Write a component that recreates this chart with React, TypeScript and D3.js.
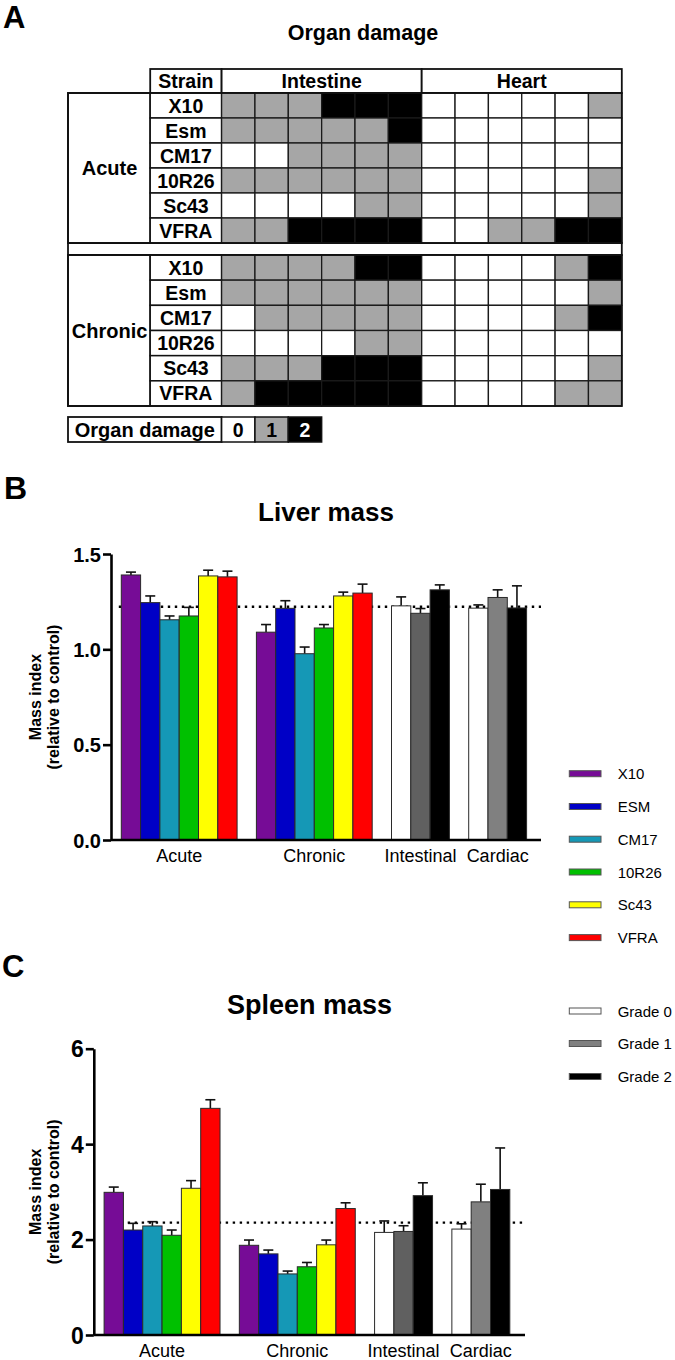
import React, { useEffect, useRef } from "react";
import * as d3 from "d3";

const FONT = "'Liberation Sans', Arial, Helvetica, sans-serif";

// ---------- Panel A data ----------
const tableStrains = ["X10", "Esm", "CM17", "10R26", "Sc43", "VFRA"];
const phases = ["Acute", "Chronic"];
const organs = ["Intestine", "Heart"];
const acuteIntestine = [
  [1, 1, 1, 2, 2, 2],
  [1, 1, 1, 1, 1, 2],
  [0, 0, 1, 1, 1, 1],
  [1, 1, 1, 1, 1, 1],
  [0, 0, 0, 0, 1, 1],
  [1, 1, 2, 2, 2, 2],
];
const acuteHeart = [
  [0, 0, 0, 0, 0, 1],
  [0, 0, 0, 0, 0, 0],
  [0, 0, 0, 0, 0, 0],
  [0, 0, 0, 0, 0, 1],
  [0, 0, 0, 0, 0, 1],
  [0, 0, 1, 1, 2, 2],
];
const chronicIntestine = [
  [1, 1, 1, 1, 2, 2],
  [1, 1, 1, 1, 1, 1],
  [0, 1, 1, 1, 1, 1],
  [0, 0, 0, 0, 1, 1],
  [1, 1, 1, 2, 2, 2],
  [1, 2, 2, 2, 2, 2],
];
const chronicHeart = [
  [0, 0, 0, 0, 1, 2],
  [0, 0, 0, 0, 0, 1],
  [0, 0, 0, 0, 1, 2],
  [0, 0, 0, 0, 0, 0],
  [0, 0, 0, 0, 0, 1],
  [0, 0, 0, 0, 1, 1],
];
const damageLevels = [0, 1, 2];
const damageColors = ["#ffffff", "#a6a6a6", "#000000"];

// ---------- Panels B/C data ----------
const strains = ["X10", "ESM", "CM17", "10R26", "Sc43", "VFRA"];
const strainColors = ["#760c96", "#0000c6", "#1598b6", "#00c000", "#ffff00", "#ff0000"];
const grades = ["Grade 0", "Grade 1", "Grade 2"];
const intestinalGradeColors = ["#ffffff", "#606060", "#000000"];
const cardiacGradeColors = ["#ffffff", "#808080", "#000000"];
const legendGradeColors = ["#ffffff", "#808080", "#000000"];
const groupLabels = ["Acute", "Chronic", "Intestinal", "Cardiac"];

const liverAcute = [1.39, 1.245, 1.155, 1.175, 1.385, 1.38];
const liverAcuteSem = [0.015, 0.035, 0.02, 0.045, 0.03, 0.03];
const liverChronic = [1.09, 1.215, 0.977, 1.112, 1.28, 1.295];
const liverChronicSem = [0.04, 0.04, 0.035, 0.018, 0.02, 0.047];
const liverIntestinal = [1.228, 1.189, 1.312];
const liverIntestinalSem = [0.047, 0.025, 0.026];
const liverCardiac = [1.216, 1.272, 1.217];
const liverCardiacSem = [0.017, 0.04, 0.116];
const liverControl = 1.223;
const liverTicks = [0, 0.5, 1.0, 1.5];

const spleenAcute = [2.99, 2.2, 2.285, 2.09, 3.075, 4.75];
const spleenAcuteSem = [0.11, 0.14, 0.09, 0.11, 0.16, 0.18];
const spleenChronic = [1.88, 1.7, 1.28, 1.43, 1.89, 2.65];
const spleenChronicSem = [0.11, 0.08, 0.06, 0.09, 0.1, 0.12];
const spleenIntestinal = [2.15, 2.17, 2.92];
const spleenIntestinalSem = [0.24, 0.12, 0.27];
const spleenCardiac = [2.22, 2.79, 3.05];
const spleenCardiacSem = [0.11, 0.37, 0.87];
const spleenControl = 2.355;
const spleenTicks = [0, 2, 4, 6];

type Group = { label: string; values: number[]; sems: number[]; colors: string[] };

const liverGroups: Group[] = [
  { label: groupLabels[0], values: liverAcute, sems: liverAcuteSem, colors: strainColors },
  { label: groupLabels[1], values: liverChronic, sems: liverChronicSem, colors: strainColors },
  { label: groupLabels[2], values: liverIntestinal, sems: liverIntestinalSem, colors: intestinalGradeColors },
  { label: groupLabels[3], values: liverCardiac, sems: liverCardiacSem, colors: cardiacGradeColors },
];
const spleenGroups: Group[] = [
  { label: groupLabels[0], values: spleenAcute, sems: spleenAcuteSem, colors: strainColors },
  { label: groupLabels[1], values: spleenChronic, sems: spleenChronicSem, colors: strainColors },
  { label: groupLabels[2], values: spleenIntestinal, sems: spleenIntestinalSem, colors: intestinalGradeColors },
  { label: groupLabels[3], values: spleenCardiac, sems: spleenCardiacSem, colors: cardiacGradeColors },
];

// ---------- Panel A component ----------
function DamageTable() {
  const colX = d3.scaleBand<number>().domain(d3.range(12)).range([221.6, 621.8]);
  const rowsAcute = d3.scaleBand<number>().domain(d3.range(6)).range([93, 243]);
  const rowsChronic = d3.scaleBand<number>().domain(d3.range(6)).range([255, 406]);
  const left = 68, strainL = 150.2, strainR = 221.6, right = 621.8;
  const blocks = [
    { phase: phases[0], rows: rowsAcute, intestine: acuteIntestine, heart: acuteHeart },
    { phase: phases[1], rows: rowsChronic, intestine: chronicIntestine, heart: chronicHeart },
  ];
  const txt = { fontFamily: FONT, fontWeight: "bold" as const, fontSize: 19.5, textAnchor: "middle" as const };
  return (
    <g>
      <text x={363} y={40} {...txt} fontSize={21.5}>Organ damage</text>
      {/* header */}
      <rect x={strainL} y={69} width={strainR - strainL} height={24} fill="#fff" stroke="#111" strokeWidth={1.8} />
      <rect x={strainR} y={69} width={colX(6)! - strainR} height={24} fill="#fff" stroke="#111" strokeWidth={1.8} />
      <rect x={colX(6)!} y={69} width={right - colX(6)!} height={24} fill="#fff" stroke="#111" strokeWidth={1.8} />
      <text x={(strainL + strainR) / 2} y={88} {...txt}>Strain</text>
      <text x={(strainR + colX(6)!) / 2} y={88} {...txt}>{organs[0]}</text>
      <text x={(colX(6)! + right) / 2} y={88} {...txt}>{organs[1]}</text>
      {/* spacer */}
      <rect x={left} y={243} width={right - left} height={12} fill="#fff" stroke="#111" strokeWidth={1.8} />
      {blocks.map((b, bi) => {
        const top = b.rows.range()[0];
        const bottom = b.rows.range()[1];
        return (
          <g key={bi}>
            <rect x={left} y={top} width={strainL - left} height={bottom - top} fill="#fff" stroke="#111" strokeWidth={1.8} />
            <text x={(left + strainL) / 2 + 0.5} y={(top + bottom) / 2 + 7} {...txt} fontSize={20}>{b.phase}</text>
            {tableStrains.map((s, r) => (
              <g key={s}>
                <rect x={strainL} y={b.rows(r)!} width={strainR - strainL} height={b.rows.bandwidth()} fill="#fff" stroke="#111" strokeWidth={1.5} />
                <text x={(strainL + strainR) / 2} y={b.rows(r)! + b.rows.bandwidth() / 2 + 7} {...txt}>{s}</text>
                {b.intestine[r].concat(b.heart[r]).map((v, c) => (
                  <rect key={c} x={colX(c)!} y={b.rows(r)!} width={colX.bandwidth()} height={b.rows.bandwidth()}
                    fill={damageColors[v]} stroke="#1a1a1a" strokeWidth={1.3} />
                ))}
              </g>
            ))}
            <rect x={left} y={top} width={right - left} height={bottom - top} fill="none" stroke="#111" strokeWidth={1.8} />
          </g>
        );
      })}
      {/* legend */}
      <rect x={left} y={417} width={strainR - left} height={25} fill="#fff" stroke="#111" strokeWidth={1.8} />
      <text x={(left + strainR) / 2} y={436.5} {...txt} fontSize={20}>Organ damage</text>
      {damageLevels.map((d) => (
        <g key={d}>
          <rect x={colX(d)!} y={417} width={colX.bandwidth()} height={25} fill={damageColors[d]} stroke="#111" strokeWidth={1.5} />
          <text x={colX(d)! + colX.bandwidth() / 2} y={436.5} {...txt} fill={d === 2 ? "#fff" : "#000"}>{d}</text>
        </g>
      ))}
    </g>
  );
}

// ---------- Bar panel ----------
type PanelCfg = {
  title: string; titleX: number; titleY: number; titleSize: number;
  groups: Group[]; domain: [number, number]; y0: number; y1: number;
  ticks: number[]; fmt: (d: number) => string; tickFont: number;
  axisX: number; axisEnd: number; barStart: number; slot: number;
  control: number; dotStart: number; labelY: number;
};

function BarPanel({ cfg }: { cfg: PanelCfg }) {
  const axisRef = useRef<SVGGElement>(null);
  const y = d3.scaleLinear().domain(cfg.domain).range([cfg.y0, cfg.y1]);
  const nSlots = d3.sum(cfg.groups, (g) => g.values.length) + cfg.groups.length - 1;
  const x = d3.scaleLinear().domain([0, nSlots]).range([cfg.barStart, cfg.barStart + nSlots * cfg.slot]);
  let cursor = 0;
  const placed = cfg.groups.map((g) => {
    const start = cursor;
    cursor += g.values.length + 1;
    return { ...g, start };
  });
  useEffect(() => {
    if (!axisRef.current) return;
    const g = d3.select(axisRef.current);
    g.selectAll("*").remove();
    g.call(d3.axisLeft(y).tickValues(cfg.ticks).tickFormat(cfg.fmt as any).tickSize(8).tickSizeOuter(0));
    g.select(".domain").attr("stroke", "#000").attr("stroke-width", 2.6);
    g.selectAll(".tick line").attr("stroke", "#000").attr("stroke-width", 2.6);
    g.selectAll(".tick text")
      .attr("font-size", cfg.tickFont).attr("font-weight", "bold")
      .attr("font-family", FONT).attr("fill", "#000").attr("x", -10).attr("dy", "0.36em");
  });
  const midY = (cfg.y0 + cfg.y1) / 2;
  return (
    <g>
      <text x={cfg.titleX} y={cfg.titleY} textAnchor="middle" fontFamily={FONT} fontWeight="bold" fontSize={cfg.titleSize}>{cfg.title}</text>
      <text transform={`translate(40.5,${midY}) rotate(-90)`} textAnchor="middle" fontFamily={FONT} fontWeight="bold" fontSize={16}>Mass index</text>
      <text transform={`translate(59,${midY}) rotate(-90)`} textAnchor="middle" fontFamily={FONT} fontWeight="bold" fontSize={16}>(relative to control)</text>
      {/* control line (behind bars) */}
      <line x1={cfg.dotStart} x2={cfg.axisEnd} y1={y(cfg.control)} y2={y(cfg.control)} stroke="#000" strokeWidth={2.4} strokeDasharray="2.4,4.6" />
      {placed.map((g, gi) => (
        <g key={gi}>
          {g.values.map((v, i) => {
            const x0 = x(g.start + i);
            const cx = x0 + cfg.slot / 2;
            return (
              <g key={i}>
                <line x1={cx} x2={cx} y1={y(v)} y2={y(v + g.sems[i])} stroke="#111" strokeWidth={1.6} />
                <line x1={cx - 5} x2={cx + 5} y1={y(v + g.sems[i])} y2={y(v + g.sems[i])} stroke="#111" strokeWidth={1.6} />
                <rect x={x0} y={y(v)} width={cfg.slot} height={y(0) - y(v)} fill={g.colors[i]} stroke="#2a2a2a" strokeWidth={1} />
              </g>
            );
          })}
          <text x={x(g.start + g.values.length / 2)} y={cfg.labelY} textAnchor="middle" fontFamily={FONT} fontSize={18}>{g.label}</text>
        </g>
      ))}
      <line x1={cfg.axisX} x2={cfg.axisEnd} y1={y(0)} y2={y(0)} stroke="#000" strokeWidth={2.6} />
      <g ref={axisRef} transform={`translate(${cfg.axisX},0)`} />
    </g>
  );
}

function Legend({ items, colors, ys }: { items: string[]; colors: string[]; ys: number[] }) {
  return (
    <g>
      {items.map((t, i) => (
        <g key={t}>
          <rect x={569.3} y={ys[i] - 3} width={31.7} height={6} fill={colors[i]} stroke="#555" strokeWidth={1} />
          <text x={617.7} y={ys[i] + 5.5} fontFamily={FONT} fontSize={15}>{t}</text>
        </g>
      ))}
    </g>
  );
}

const liverCfg: PanelCfg = {
  title: "Liver mass", titleX: 326, titleY: 521, titleSize: 26,
  groups: liverGroups, domain: [0, 1.5], y0: 840, y1: 554,
  ticks: liverTicks, fmt: d3.format(".1f"), tickFont: 20,
  axisX: 111, axisEnd: 541, barStart: 121.3, slot: 19.3,
  control: liverControl, dotStart: 118.8, labelY: 862,
};
const spleenCfg: PanelCfg = {
  title: "Spleen mass", titleX: 309.5, titleY: 1014, titleSize: 27,
  groups: spleenGroups, domain: [0, 6], y0: 1335, y1: 1048.7,
  ticks: spleenTicks, fmt: d3.format("d"), tickFont: 23,
  axisX: 93.8, axisEnd: 525, barStart: 104.1, slot: 19.32,
  control: spleenControl, dotStart: 106.7, labelY: 1357,
};

export default function App() {
  return (
    <svg width={675} height={1360} style={{ position: "absolute", left: 0, top: 0, background: "#fff" }}>
      <rect width={675} height={1360} fill="#fff" />
      <text x={3} y={28} fontFamily={FONT} fontWeight="bold" fontSize={31}>A</text>
      <text x={4} y={499} fontFamily={FONT} fontWeight="bold" fontSize={32}>B</text>
      <text x={2} y={977} fontFamily={FONT} fontWeight="bold" fontSize={31}>C</text>
      <DamageTable />
      <BarPanel cfg={liverCfg} />
      <BarPanel cfg={spleenCfg} />
      <Legend items={strains} colors={strainColors} ys={[773.7, 806.5, 839.2, 872, 904.8, 937.6]} />
      <Legend items={grades} colors={legendGradeColors} ys={[1011, 1043.5, 1076.5]} />
    </svg>
  );
}
